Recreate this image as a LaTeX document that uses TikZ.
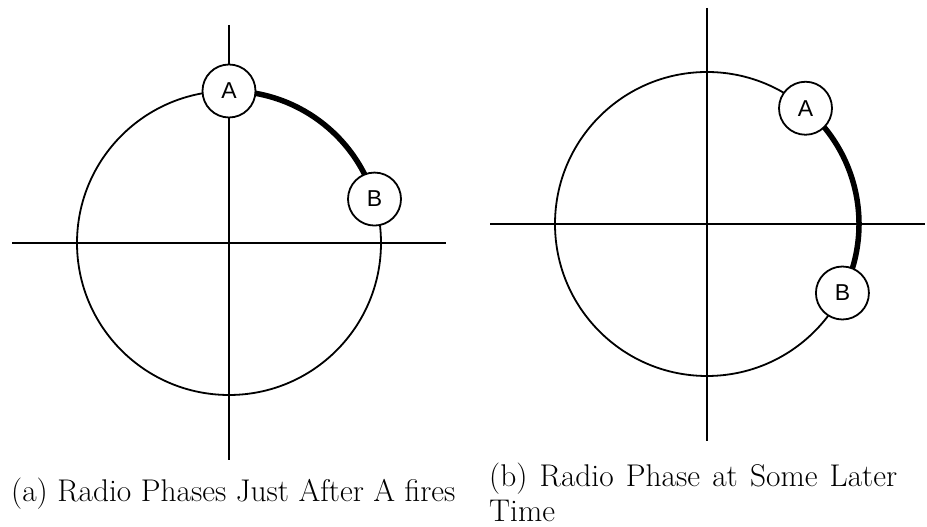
\documentclass[tikz,border=0pt]{standalone}
\usepackage{fontspec}
\usetikzlibrary{calc}
\newfontfamily\labelfont{Liberation Sans}
\begin{document}
\begin{tikzpicture}[x=1pt,y=1pt,
  axis/.style={line width=2pt},
  ring/.style={line width=1.8pt},
  phasearc/.style={line width=5.5pt},
  radio/.style={circle,draw,line width=1.8pt,fill=white,minimum size=53pt,inner sep=0pt,font=\labelfont\fontsize{23}{23}\selectfont},
  capt/.style={inner sep=0pt,font=\fontsize{31.4}{35}\selectfont}]
\useasboundingbox (0,0) rectangle (927,527);
% left diagram
\coordinate (cl) at (229,284);
\coordinate (lw) at (12,284);
\coordinate (le) at (446,284);
\coordinate (ln) at (229,502);
\coordinate (ls) at (229,67);
\draw[ring] (cl) circle[radius=152];
\draw[axis] (lw) -- (le);
\draw[axis] (ln) -- (ls);
\draw[phasearc] (cl) ++(90:152) arc[start angle=90,end angle=16.8,radius=152];
\node[radio] (la) at ($(cl)+(90:152)$) {A};
\node[radio] (lb) at ($(cl)+(16.8:152)$) {B};
% right diagram
\coordinate (cr) at (707,303);
\coordinate (rw) at (490,303);
\coordinate (re) at (925,303);
\coordinate (rn) at (707,519);
\coordinate (rs) at (707,86);
\draw[ring] (cr) circle[radius=152];
\draw[axis] (rw) -- (re);
\draw[axis] (rn) -- (rs);
\draw[phasearc] (cr) ++(49.6:152) arc[start angle=49.6,end angle=-27,radius=152];
\node[radio] (ra) at ($(cr)+(49.6:152)$) {A};
\node[radio] (rb) at ($(cr)+(-27:152)$) {B};
% captions
\node[capt,anchor=base west] (capa) at (11,25) {(a) Radio Phases Just After A fires};
\node[capt,anchor=base west,text width=408pt,align=justify] (capb) at (489,40) {(b) Radio Phase at Some Later Time};
\end{tikzpicture}
\end{document}
